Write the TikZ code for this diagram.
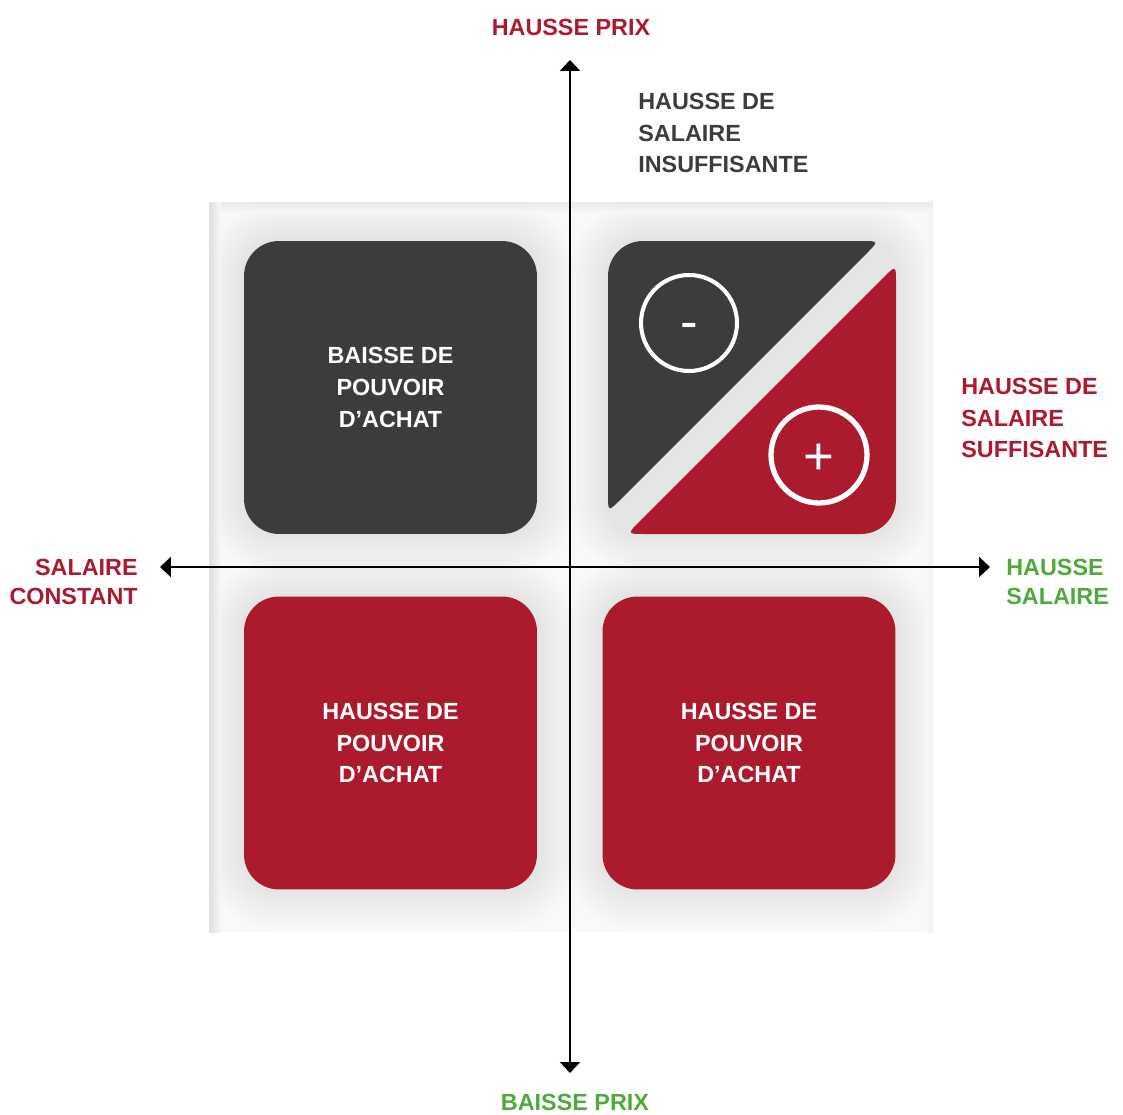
\documentclass[tikz,border=0pt]{standalone}
\usepackage{fontspec}
\setmainfont{Liberation Sans}
\usetikzlibrary{arrows.meta}
\definecolor{rouge}{HTML}{AC1A2E}
\definecolor{sombre}{HTML}{3C3C3B}
\definecolor{vert}{HTML}{50A93C}
\definecolor{fond}{HTML}{F9F9F9}
\tikzset{
  quadrant/.style={rounded corners=0.7cm, minimum width=5.86cm, minimum height=5.86cm,
    text=white, align=center, font=\bfseries\fontsize{13.3}{18.1}\selectfont},
  legende/.style={inner sep=0pt, font=\bfseries\fontsize{13.3}{18.1}\selectfont},
  axe/.style={line width=1.4pt, <->, >={Triangle[length=0.22cm,width=0.4cm]}},
  cercle/.style={circle, draw=white, minimum size=1.92cm, inner sep=0pt},
  signe/.style={text=white, inner sep=0pt, font=\fontsize{30}{30}\selectfont}
}
\begin{document}
\begin{tikzpicture}[x=0.02cm,y=-0.02cm]
\useasboundingbox (0,0) rectangle (1123,1115);
\fill[fond] (209,202) rectangle (933,932);
\begin{scope}
\clip (209,202) rectangle (933,932);
\foreach \xa/\ya/\xb/\yb in {244/241/537/534, 244/597/537/889, 603/597/895/889, 608/241/896/534}
  \foreach \i in {1,...,10}
    \fill[black, opacity=0.008, rounded corners=0.7cm+\i*0.08cm] (\xa-\i*4,\ya-\i*4) rectangle (\xb+\i*4,\yb+\i*4);
\end{scope}
\shade[left color=gray!30, right color=fond, opacity=0.8] (209,202) rectangle (221,932);
\shade[top color=gray!20, bottom color=fond, opacity=0.8] (221,202) rectangle (933,213);
\shade[left color=fond, right color=gray!12, opacity=0.8] (925,213) rectangle (933,932);

\node[quadrant, fill=sombre] (baisse) at (390.5,387.5) {BAISSE DE\\POUVOIR\\D’ACHAT};
\node[quadrant, fill=rouge] (hausseG) at (390.5,743) {HAUSSE DE\\POUVOIR\\D’ACHAT};
\node[quadrant, fill=rouge] (hausseD) at (749,743) {HAUSSE DE\\POUVOIR\\D’ACHAT};

\fill[sombre] (608,276) arc[start angle=180, end angle=270, radius=35] -- (861,241) .. controls (879,241) .. (866.3,253.7)
  -- (620.7,499.3) .. controls (608,512) .. (608,494) -- cycle;
\fill[rouge] (861,534) arc[start angle=90, end angle=0, radius=35] -- (896,283) .. controls (896,265) .. (883.3,277.7)
  -- (639.7,521.3) .. controls (627,534) .. (645,534) -- cycle;
\node[cercle, line width=2.3pt] (moins) at (689,323) {};
\node[cercle, line width=3pt] (plus) at (819,455) {};
\node[signe] (signeMoins) at (689,331) {-};
\node[signe] (signePlus) at (819,459) {+};

\coordinate (haut) at (570,60);
\coordinate (bas) at (570,1073);
\coordinate (gauche) at (160,567);
\coordinate (droite) at (990,567);
\draw[axe] (bas) -- (haut);
\draw[axe] (gauche) -- (droite);

\node[legende, text=rouge] (hprix) at (571,27) {HAUSSE PRIX};
\node[legende, text=vert] (bprix) at (575,1102) {BAISSE PRIX};
\node[legende, text=sombre, anchor=west, align=left] (insuf) at (638,133) {HAUSSE DE\\SALAIRE\\INSUFFISANTE};
\node[legende, text=rouge, anchor=west, align=left] (suf) at (961,418) {HAUSSE DE\\SALAIRE\\SUFFISANTE};
\node[legende, text=rouge, anchor=east, align=right, font=\bfseries\fontsize{13.3}{16.4}\selectfont] (constant) at (138,582) {SALAIRE\\CONSTANT};
\node[legende, text=vert, anchor=west, align=left, font=\bfseries\fontsize{13.3}{16.4}\selectfont] (hsal) at (1006,582) {HAUSSE\\SALAIRE};
\end{tikzpicture}
\end{document}
